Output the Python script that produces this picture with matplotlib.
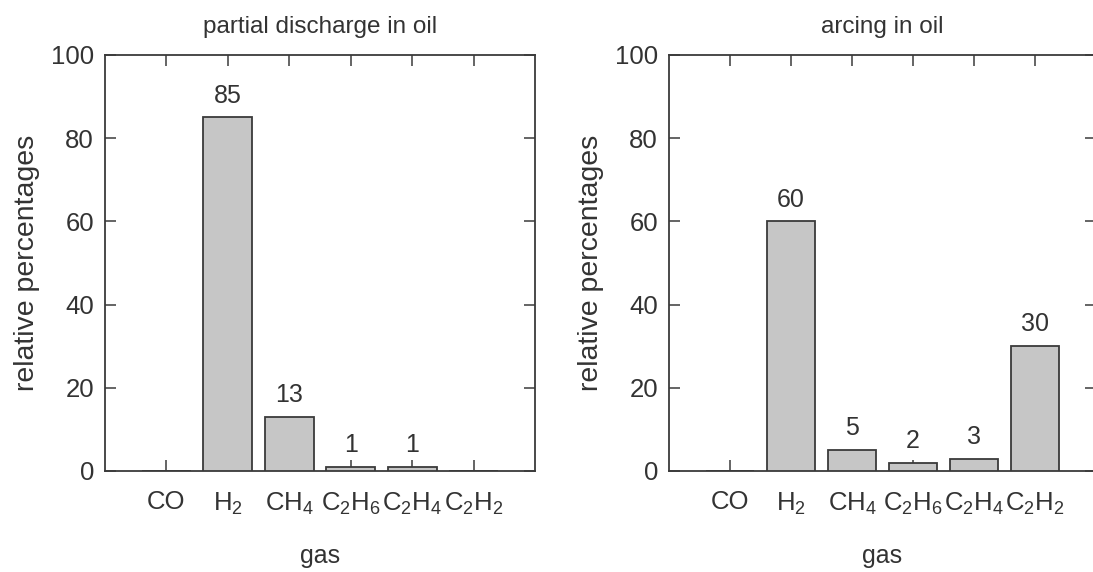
import numpy as np
import matplotlib
matplotlib.use("Agg")
import matplotlib.pyplot as plt

plt.rcParams['font.family'] = ['Liberation Sans', 'DejaVu Sans']
plt.rcParams['mathtext.default'] = 'regular'

# data
gases = ['CO', 'H$_2$', 'CH$_4$', 'C$_2$H$_6$', 'C$_2$H$_4$', 'C$_2$H$_2$']
partialDischarge = [0, 85, 13, 1, 1, 0]
pdLabels = ['', '85', '13', '1', '1', '']
arcing = [0, 60, 5, 2, 3, 30]
arcLabels = ['', '60', '5', '2', '3', '30']

TEXT = '#333333'
EDGE = '#3a3a3a'


def drawPanel(ax, values, labels, title):
    x = np.arange(len(gases))
    ax.bar(x, values, width=0.8, color='#c6c6c6', edgecolor=EDGE,
           linewidth=1.3, zorder=3)
    for xi, v, lab in zip(x, values, labels):
        if lab:
            ax.annotate(lab, (xi, v), xytext=(0, 7), textcoords='offset points',
                        ha='center', va='bottom', fontsize=18, color=TEXT)

    ax.set_xlim(-1, 6)
    ax.set_ylim(0, 100)
    ax.set_xticks(x)
    ax.set_xticklabels(gases)
    ax.set_yticks([0, 20, 40, 60, 80, 100])
    ax.tick_params(direction='in', top=True, right=True, length=8, width=1.1,
                   color=EDGE, labelsize=18.5, labelcolor=TEXT)
    ax.tick_params(axis='x', pad=14)
    ax.tick_params(axis='y', pad=8)
    for s in ax.spines.values():
        s.set_color(EDGE)
        s.set_linewidth(1.3)

    ax.set_title(title, fontsize=17.5, color=TEXT, pad=16)
    ax.set_xlabel('gas', fontsize=18, color=TEXT, labelpad=20)
    ax.set_ylabel('relative percentages', fontsize=20.5, color=TEXT, labelpad=8)


fig = plt.figure(figsize=(10.93, 5.72), dpi=100)
ax1 = fig.add_axes([0.0961, 0.1766, 0.3934, 0.7273])
ax2 = fig.add_axes([0.6121, 0.1766, 0.3907, 0.7273])

drawPanel(ax1, partialDischarge, pdLabels, 'partial discharge in oil')
drawPanel(ax2, arcing, arcLabels, 'arcing in oil')

fig.savefig('out.png', dpi=100)
